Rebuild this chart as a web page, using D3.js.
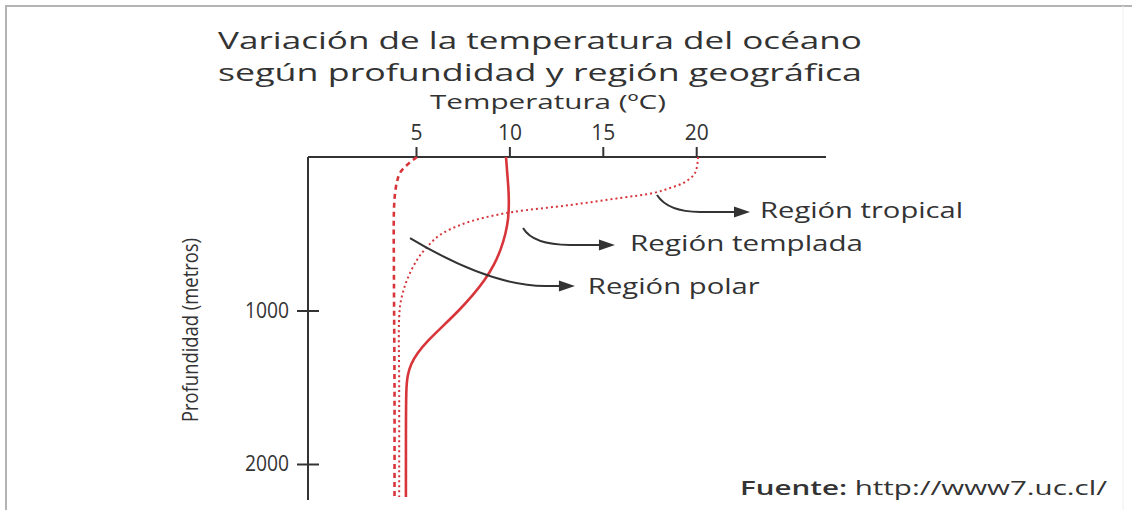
<!DOCTYPE html>
<html><head><meta charset="utf-8">
<script src="https://cdn.jsdelivr.net/npm/d3@7"></script>
<style>
html,body{margin:0;padding:0;background:#fff;}
svg text{font-family:"Open Sans",sans-serif;fill:#333;}
</style></head>
<body><svg id="c" width="1132" height="510"></svg>
<script>
// ---- data ----
const titleLines = ["Variación de la temperatura del océano", "según profundidad y región geográfica"];
const xTitle = "Temperatura (ºC)";
const yTitle = "Profundidad (metros)";
const source = ["Fuente:", " http://www7.uc.cl/"];
const tempTicks = [5, 10, 15, 20];
const depthTicks = [1000, 2000];

const polarDepth = [0, 52, 104, 163, 235, 345, 800, 1500, 2215];
const polarTemp  = [5.05, 4.52, 4.14, 3.98, 3.88, 3.82, 3.82, 3.85, 3.85];

const templadaDepth = [0, 100, 200, 300, 400, 500, 600, 700, 800, 900, 1000, 1100, 1200, 1280, 1350, 1420, 1500, 1800, 2215];
const templadaTemp  = [9.82, 9.88, 9.95, 9.98, 9.95, 9.8, 9.55, 9.2, 8.7, 8.05, 7.3, 6.45, 5.6, 5.05, 4.72, 4.55, 4.47, 4.46, 4.46];

const tropicalDepth = [0, 104, 163, 202, 235, 267, 313, 358, 397, 443, 508, 586, 671, 801, 932, 1042, 1500, 2215];
const tropicalTemp  = [20.1, 19.94, 19.4, 18.6, 17.69, 15.92, 13.24, 10.19, 8.59, 7.36, 6.28, 5.59, 5.05, 4.52, 4.2, 4.1, 4.1, 4.1];

const labels = ["Región tropical", "Región templada", "Región polar"];
// arrow points: [temp, depth]  start, control, bend, tip ; label anchor
const arrowStart = [[17.9, 248], [10.73, 463], [4.68, 528]];
const arrowCtrl  = [[18.49, 358], [11.26, 573], [8.96, 840]];
const arrowBend  = [[20.2, 358], [13.24, 573], [11.9, 840]];
const arrowTip   = [[22.88, 358], [15.65, 573], [13.51, 840]];
const labelAt    = [[23.42, 352], [16.46, 567], [14.2, 847]];

// ---- drawing ----
const svg = d3.select("#c");
const x = d3.scaleLinear().domain([5, 20]).range([416, 696.2]);
const y = d3.scaleLinear().domain([0, 2000]).range([157, 464]);
const xMin = x.invert(308), xMax = x.invert(826), yMax = y.invert(500);
const red = "#d8353b", ink = "#333";

// frame
svg.append("path").attr("d", "M6,510 V6 H1132").attr("fill", "none").attr("stroke", "#b4b4b4").attr("stroke-width", 2);
svg.append("line").attr("x1", 1123).attr("x2", 1123).attr("y1", 6).attr("y2", 510).attr("stroke", "#eee").attr("stroke-width", 1);

// titles
const tw = [644, 644];
titleLines.forEach((t, i) => {
  svg.append("text").attr("x", 218).attr("y", 49 + i * 32).attr("font-size", 24).attr("font-weight", 500)
    .attr("textLength", tw[i]).attr("lengthAdjust", "spacingAndGlyphs").text(t);
});
svg.append("text").attr("x", 430).attr("y", 109).attr("font-size", 20)
  .attr("textLength", 236).attr("lengthAdjust", "spacingAndGlyphs").text(xTitle);

// axes
const xAxis = d3.axisTop(x).tickValues(tempTicks).tickSize(10).tickFormat(d3.format("d"));
const gx = svg.append("g").attr("transform", `translate(0,${y(0)})`).call(xAxis);
gx.select(".domain").remove();
gx.selectAll(".tick line").attr("stroke", ink).attr("stroke-width", 2);
gx.selectAll(".tick text").attr("font-size", 21).attr("font-family", "Open Sans").attr("fill", ink)
  .attr("dy", "-0.2em");
svg.append("line").attr("x1", x(xMin)).attr("x2", x(xMax)).attr("y1", y(0)).attr("y2", y(0))
  .attr("stroke", ink).attr("stroke-width", 2);

const yAxis = d3.axisLeft(y).tickValues(depthTicks).tickSize(11).tickFormat(d3.format("d"));
const gy = svg.append("g").attr("transform", `translate(${x(xMin)},0)`).call(yAxis);
gy.select(".domain").remove();
gy.selectAll(".tick line").attr("x2", 11).attr("x1", -11).attr("stroke", ink).attr("stroke-width", 2);
gy.selectAll(".tick text").attr("font-size", 21).attr("font-family", "Open Sans").attr("fill", ink)
  .attr("x", -19).attr("textLength", 44).attr("lengthAdjust", "spacingAndGlyphs");
svg.append("line").attr("x1", x(xMin)).attr("x2", x(xMin)).attr("y1", y(0)).attr("y2", y(yMax))
  .attr("stroke", ink).attr("stroke-width", 2);

svg.append("text").attr("transform", `translate(198,${330}) rotate(-90)`).attr("text-anchor", "middle")
  .attr("font-size", 22).attr("textLength", 184).attr("lengthAdjust", "spacingAndGlyphs").text(yTitle);

// curves
const line = d3.line().x(d => x(d[0])).y(d => y(d[1])).curve(d3.curveCatmullRom.alpha(0.5));
const smooth = d3.line().x(d => x(d[0])).y(d => y(d[1])).curve(d3.curveBasis);
const zip = (t, d) => t.map((v, i) => [v, d[i]]);
svg.append("path").attr("d", line(zip(polarTemp, polarDepth))).attr("fill", "none")
  .attr("stroke", red).attr("stroke-width", 2.6).attr("stroke-dasharray", "5,4");
svg.append("path").attr("d", line(zip(tropicalTemp, tropicalDepth))).attr("fill", "none")
  .attr("stroke", red).attr("stroke-width", 2).attr("stroke-dasharray", "2,3");
svg.append("path").attr("d", smooth(zip(templadaTemp, templadaDepth))).attr("fill", "none")
  .attr("stroke", red).attr("stroke-width", 2.6);

// arrows + labels
const lw = [203, 233, 172];
labels.forEach((lab, i) => {
  const s = arrowStart[i], c = arrowCtrl[i], b = arrowBend[i], t = arrowTip[i];
  const p = d3.path();
  p.moveTo(x(s[0]), y(s[1]));
  p.quadraticCurveTo(x(c[0]), y(c[1]), x(b[0]), y(b[1]));
  p.lineTo(x(t[0]) - 10, y(t[1]));
  svg.append("path").attr("d", p.toString()).attr("fill", "none").attr("stroke", ink).attr("stroke-width", 2);
  const tx = x(t[0]), ty = y(t[1]);
  svg.append("path").attr("d", `M${tx},${ty} L${tx - 16},${ty - 5.5} L${tx - 16},${ty + 5.5} Z`).attr("fill", ink);
  svg.append("text").attr("x", x(labelAt[i][0])).attr("y", y(labelAt[i][1])).attr("dy", "0.35em")
    .attr("font-size", 21).attr("textLength", lw[i]).attr("lengthAdjust", "spacingAndGlyphs").text(lab);
});

// source
const st = svg.append("text").attr("x", 740).attr("y", 495).attr("font-size", 20)
  .attr("textLength", 367).attr("lengthAdjust", "spacingAndGlyphs");
st.append("tspan").attr("font-weight", 600).text(source[0]);
st.append("tspan").text(source[1]);
</script></body></html>
